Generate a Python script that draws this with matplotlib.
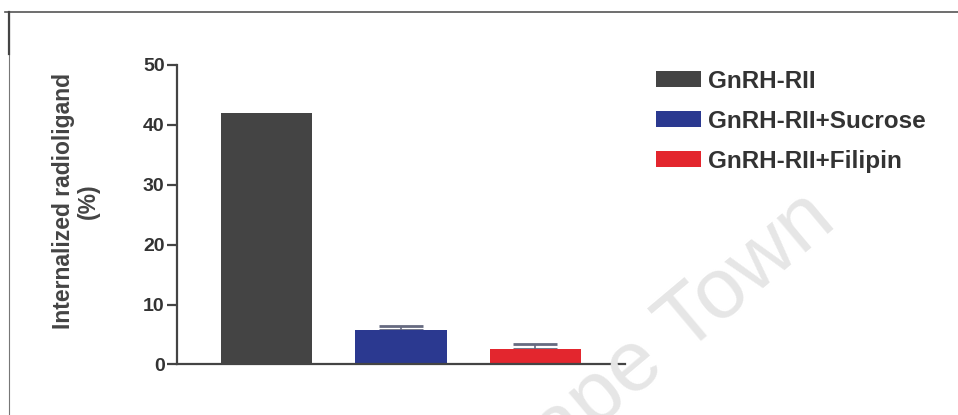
import matplotlib
matplotlib.use('Agg')
import matplotlib.pyplot as plt
from matplotlib.lines import Line2D
from matplotlib.patches import Patch

plt.rcParams['font.family'] = ['Liberation Sans', 'DejaVu Sans']

# data
groups = ["GnRH-RII", "GnRH-RII+Sucrose", "GnRH-RII+Filipin"]
means = [42.0, 5.8, 2.6]
errs = [0.0, 0.7, 0.8]
colors = ["#444444", "#2b3990", "#e3262e"]
yticks = [0, 10, 20, 30, 40, 50]

fig = plt.figure(figsize=(9.58, 4.15), dpi=100)
ax = fig.add_axes([0.1848, 0.1217, 0.4676, 0.7217])

pos = list(range(len(groups)))
ax.bar(pos, means, width=0.68, color=colors, zorder=2)
for p, m, e in zip(pos, means, errs):
    if e > 0:
        ax.errorbar(p, m, yerr=[[0], [e]], fmt='none', ecolor='#666a80',
                    elinewidth=1.2, capsize=16, capthick=2, zorder=1)

ax.set_xlim(-0.67, 2.67)
ax.set_ylim(0, 50)
ax.set_yticks(yticks)
ax.set_xticks([])
for s in ['top', 'right']:
    ax.spines[s].set_visible(False)
for s in ['left', 'bottom']:
    ax.spines[s].set_color('#444444')
    ax.spines[s].set_linewidth(1.6)
ax.tick_params(axis='y', length=7, width=1.6, color='#444444', labelsize=14,
               labelcolor='#333333', pad=2)
for lbl in ax.get_yticklabels():
    lbl.set_fontweight('bold')
ax.set_ylabel("Internalized radioligand\n(%)", fontsize=16.5, fontweight='bold',
              color='#444444', linespacing=1.1)
ax.yaxis.set_label_coords(-0.172, 0.545)

handles = [Patch(facecolor=c, edgecolor='none') for c in colors]
fig.legend(handles, groups, loc='upper left', bbox_to_anchor=(0.662, 0.885),
           frameon=False, handlelength=1.85, handleheight=0.62,
           handletextpad=0.3, labelspacing=0.7, labelcolor='#333333',
           prop={'weight': 'bold', 'size': 17.5})

# watermark
fig.text(0.689, 0.166, "Cape Town", fontsize=62, color='#e6e6e6', rotation=40,
         ha='center', va='center', zorder=0)

# frame lines
fig.add_artist(Line2D([0.005, 1.0], [0.971, 0.971], color='#555555', lw=1.2))
fig.add_artist(Line2D([0.009, 0.009], [0.0, 0.971], color='#777777', lw=0.8))
fig.add_artist(Line2D([0.009, 0.009], [0.87, 0.971], color='#444444', lw=1.6))

fig.savefig("out.png", dpi=100)
